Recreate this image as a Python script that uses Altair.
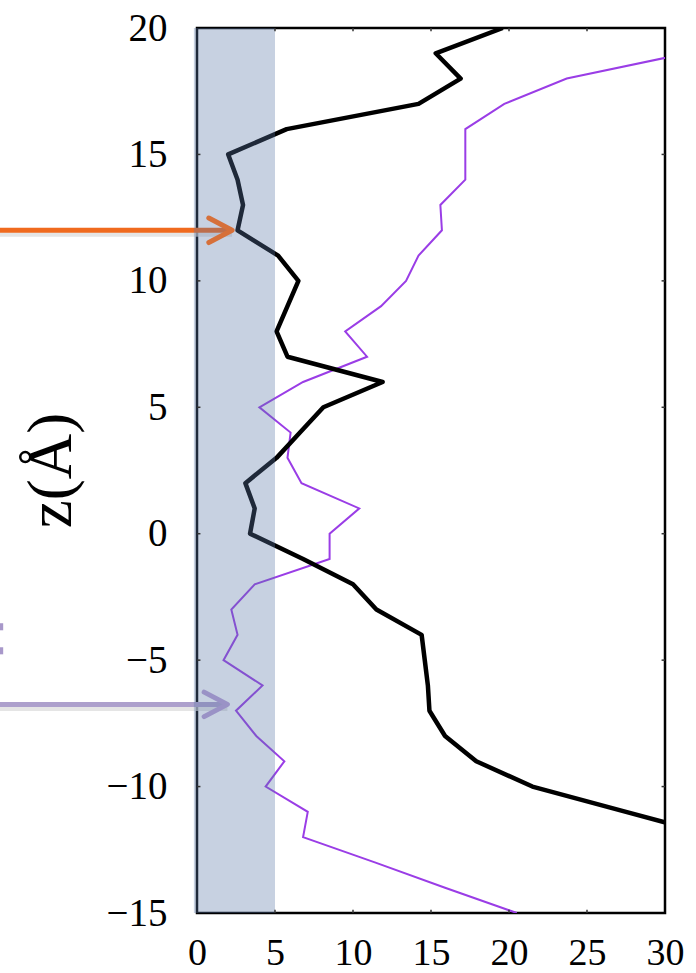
import altair as alt
import pandas as pd

# ---- data ----
z_black = list(range(20, -13, -1))
x_black = [19.6, 15.3, 16.9, 14.2, 5.75, 2.0, 2.6, 2.95, 2.6, 5.2, 6.5, 5.8, 5.1,
           5.8, 11.9, 8.1, 6.6, 5.1, 3.1, 3.7, 3.4, 6.8, 10.0, 11.5, 14.4, 14.6,
           14.8, 14.9, 15.9, 17.9, 21.5, 27.5, 33.5]

z_purple = list(range(19, -16, -1))
x_purple = [31.4, 23.7, 19.7, 17.2, 17.2, 17.2, 15.6, 15.7, 14.2, 13.4, 11.8, 9.5,
            10.9, 6.8, 4.0, 6.0, 5.8, 6.7, 10.4, 8.5, 8.5, 3.7, 2.2, 2.6, 1.7, 4.2,
            2.5, 3.8, 5.6, 4.4, 7.1, 6.8, 11.4, 15.9, 20.5]

x_ticks = [0, 5, 10, 15, 20, 25, 30]
y_ticks = [-15, -10, -5, 0, 5, 10, 15, 20]

band_start = [-0.2]
band_end = [5]

arrow_z = [12.0, -6.75]
arrow_from = [-12.7, -12.7]
arrow_tip = [2.25, 1.95]
arrow_line_color = ["#F06A1E", "#ADA0CC"]
arrow_head_color = ["#D6703A", "#9A92C6"]

dots_x = [-12.56, -12.56]
dots_z = [-3.68, -4.63]

X_DOMAIN = [0, 30]
Y_DOMAIN = [-15, 20]

# ---- tables ----
black_df = pd.DataFrame({"x": x_black, "z": z_black, "o": range(len(z_black))})
purple_df = pd.DataFrame({"x": x_purple, "z": z_purple, "o": range(len(z_purple))})
band_df = pd.DataFrame({"x": band_start, "x2": band_end, "z": [Y_DOMAIN[0]], "z2": [Y_DOMAIN[1]]})
arrow_df = pd.DataFrame({"x": arrow_from, "x2": arrow_tip, "z": arrow_z,
                         "lc": arrow_line_color, "hc": arrow_head_color})
head_df = pd.DataFrame({"x": arrow_tip, "z": arrow_z, "hc": arrow_head_color})
dots_df = pd.DataFrame({"x": dots_x, "z": dots_z})

xt_rows = []
for v in x_ticks[1:-1]:
    xt_rows.append({"x": v, "x2": v, "z": Y_DOMAIN[0], "z2": Y_DOMAIN[0] + 0.13})
    xt_rows.append({"x": v, "x2": v, "z": Y_DOMAIN[1] - 0.13, "z2": Y_DOMAIN[1]})
for v in y_ticks[1:-1]:
    xt_rows.append({"x": X_DOMAIN[0], "x2": X_DOMAIN[0] + 0.22, "z": v, "z2": v})
    xt_rows.append({"x": X_DOMAIN[1] - 0.22, "x2": X_DOMAIN[1], "z": v, "z2": v})
ticks_df = pd.DataFrame(xt_rows)

FONT = "Liberation Serif"
xs = alt.Scale(domain=X_DOMAIN, nice=False, zero=False)
ys = alt.Scale(domain=Y_DOMAIN, nice=False, zero=False)

x_axis = alt.Axis(values=x_ticks, grid=False, ticks=False, domain=False,
                  labelFont=FONT, labelFontSize=38, labelColor="black",
                  labelPadding=21, title="", labelFlush=False)
y_axis = alt.Axis(values=y_ticks, grid=False, ticks=False, domain=False,
                  labelFont=FONT, labelFontSize=39, labelColor="black",
                  labelPadding=30, labelFlush=False,
                  title="z(Å)", titleFont=FONT, titleFontSize=63,
                  titleFontWeight="normal", titleColor="black",
                  titleAngle=270, titleX=-146, titleY=442,
                  titleAlign="center", titleBaseline="middle")

X = alt.X("x:Q", scale=xs, axis=x_axis)
Y = alt.Y("z:Q", scale=ys, axis=y_axis)

black = alt.Chart(black_df).mark_line(color="black", strokeWidth=4.5, clip=True,
                                      strokeJoin="round").encode(x=X, y=Y, order="o:Q")
purple = alt.Chart(purple_df).mark_line(color="#9A3DE6", strokeWidth=2, clip=True).encode(
    x=X, y=Y, order="o:Q")
band = alt.Chart(band_df).mark_rect(color="#5A78A8", opacity=0.34, clip=False).encode(
    x=X, x2="x2:Q", y=Y, y2="z2:Q")
ticks = alt.Chart(ticks_df).mark_rule(color="#333333", strokeWidth=1.5).encode(
    x=X, x2="x2:Q", y=Y, y2="z2:Q")
shadow = alt.Chart(arrow_df).mark_rule(color="#DADADA", strokeWidth=5, yOffset=4,
                                       opacity=0.7, clip=False).encode(x=X, x2="x2:Q", y=Y)
arrow_lines = alt.Chart(arrow_df).mark_rule(strokeWidth=5, clip=False, strokeCap="butt").encode(
    x=X, x2="x2:Q", y=Y, color=alt.Color("lc:N", scale=None))
arrow_heads = alt.Chart(head_df).mark_point(
    shape="M -1.9 -1 L 0 0 L -1.9 1", filled=False, strokeWidth=5, size=600,
    clip=False, opacity=1, strokeCap="round", strokeJoin="round").encode(
    x=X, y=Y, stroke=alt.Color("hc:N", scale=None))
dots = alt.Chart(dots_df).mark_point(
    shape="M -0.6 -1 L 0.6 -1 L 0.6 1 L -0.6 1 Z", filled=True, size=50,
    color="#A898CA", opacity=1, clip=False).encode(x=X, y=Y)

chart = alt.layer(shadow, arrow_lines, purple, black, band, ticks, arrow_heads, dots).properties(
    width=468, height=885,
    autosize=alt.AutoSizeParams(type="none"),
    padding={"left": 197, "top": 28, "right": 31, "bottom": 60},
    background="white",
).configure_view(stroke="black", strokeWidth=2.5)

chart.save("out.html", embed_options={"renderer": "svg", "actions": False})
